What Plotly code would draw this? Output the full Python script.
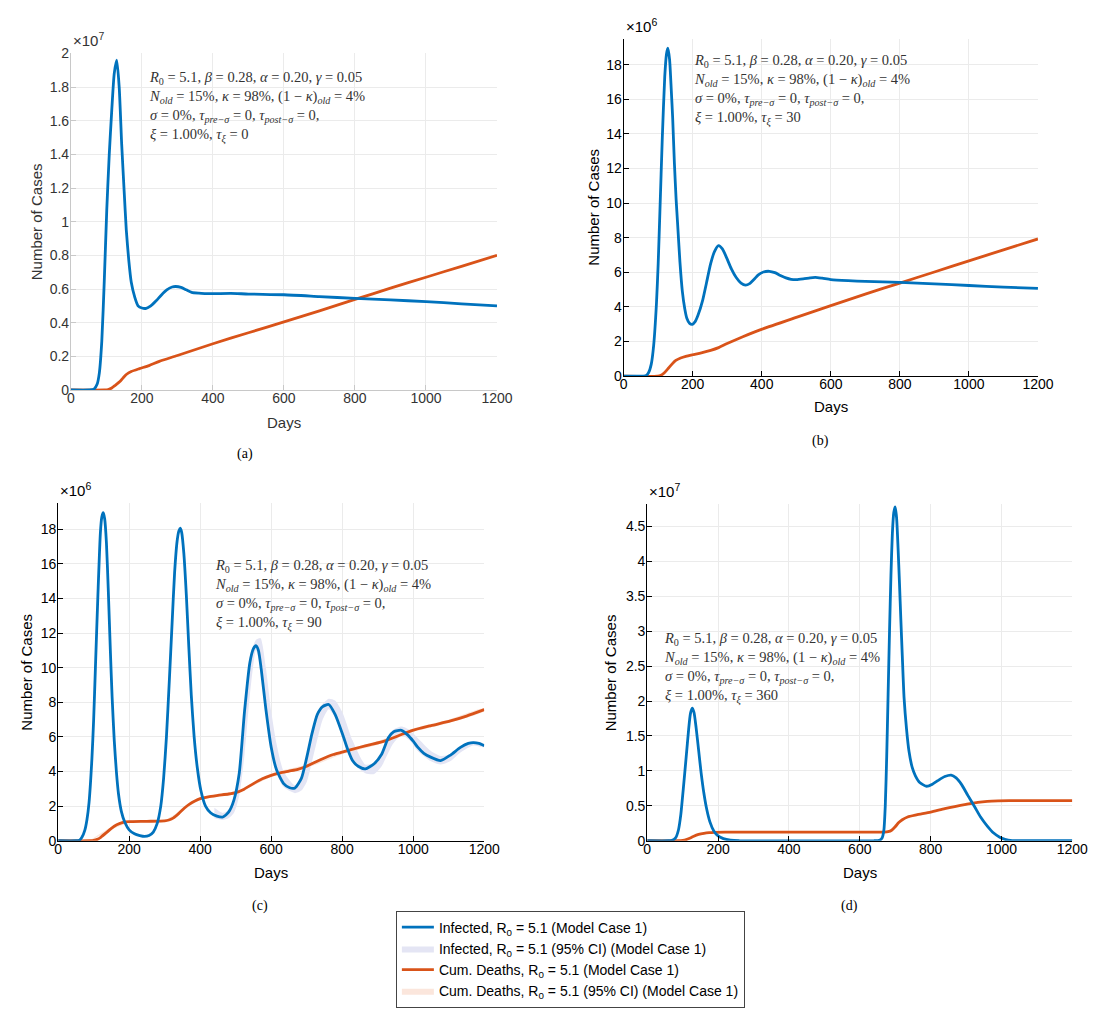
import plotly.graph_objects as go

# ---------------- data (values in the units shown on each y axis) ----------------
# Panel (a): y in units of 1e7
A_days = [0, 50, 65, 74, 80, 87, 94, 101, 108, 115, 122, 129, 136, 143, 150, 156, 163, 170, 180, 189,
          200, 212, 225, 240, 255, 270, 285, 295, 310, 325, 340, 360, 377, 400, 450, 500, 600, 700,
          800, 900, 1000, 1100, 1200]
A_inf = [0, 0, 0.005, 0.035, 0.1, 0.29, 0.65, 1.07, 1.4, 1.66, 1.88, 1.96, 1.8, 1.46, 1.18, 0.95, 0.77,
         0.64, 0.55, 0.50, 0.487, 0.485, 0.5, 0.53, 0.565, 0.595, 0.612, 0.615, 0.61, 0.595, 0.58, 0.575,
         0.573, 0.572, 0.574, 0.57, 0.566, 0.555, 0.544, 0.535, 0.525, 0.512, 0.50]
A_dth_days = [0, 95, 105, 115, 125, 138, 147, 156, 170, 193, 220, 249, 300, 400, 500, 600, 700, 800,
              900, 1000, 1100, 1200]
A_dth = [0, 0, 0.003, 0.012, 0.028, 0.05, 0.072, 0.092, 0.11, 0.127, 0.145, 0.17, 0.205, 0.275, 0.34,
         0.405, 0.47, 0.538, 0.605, 0.67, 0.735, 0.80]

# Panel (b): y in units of 1e6
B_days = [0, 55, 64, 72, 80, 87, 95, 100, 105, 112, 119, 124, 128, 133, 138, 142, 147, 152, 156, 163,
          170, 177, 183, 191, 199, 207, 215, 229, 240, 252, 263, 275, 286, 298, 312, 326, 340, 353, 365,
          378, 390, 405, 422, 438, 454, 470, 485, 500, 520, 540, 555, 575, 600, 650, 700, 800, 900, 1000,
          1100, 1200]
B_inf = [0, 0, 0.02, 0.2, 0.7, 1.8, 4.2, 6.5, 9.5, 13.8, 17.3, 18.6, 18.95, 18.3, 16.5, 14.9, 12.3, 10.2,
         8.9, 6.6, 4.9, 3.9, 3.35, 3.05, 3.0, 3.15, 3.5, 4.4, 5.4, 6.5, 7.2, 7.54, 7.35, 6.85, 6.2, 5.7,
         5.38, 5.26, 5.35, 5.6, 5.85, 6.02, 6.06, 5.98, 5.82, 5.68, 5.6, 5.58, 5.62, 5.68, 5.71, 5.66, 5.58,
         5.52, 5.48, 5.42, 5.33, 5.24, 5.15, 5.07]
B_dth_days = [0, 98, 108, 118, 128, 140, 151, 165, 180, 199, 225, 252, 275, 298, 330, 360, 401, 500, 598,
              702, 800, 900, 1000, 1100, 1200]
B_dth = [0, 0, 0.05, 0.2, 0.42, 0.7, 0.91, 1.05, 1.15, 1.24, 1.35, 1.49, 1.65, 1.87, 2.15, 2.4, 2.72, 3.4,
         4.06, 4.76, 5.38, 6.02, 6.66, 7.3, 7.93]

# Panel (c): y in units of 1e6
C_days = [0, 50, 60, 67, 75, 81, 87, 95, 100, 105, 112, 119, 123, 127, 131, 136, 141, 147, 152, 158, 164,
          170, 178, 188, 200, 215, 230, 243, 256, 268, 279, 289, 297, 305, 313, 321, 328, 335, 340, 344,
          348, 354, 361, 368, 375, 383, 392, 402, 415, 430, 447, 464, 480, 495, 510, 525, 540, 550, 557,
          564, 572, 585, 600, 615, 635, 652, 667, 685, 700, 715, 730, 745, 762, 780, 801, 815, 829, 845,
          865, 890, 911, 930, 945, 967, 985, 1000, 1012, 1030, 1049, 1077, 1105, 1133, 1155, 1169, 1185,
          1200]
C_inf = [0, 0, 0.03, 0.2, 0.6, 1.2, 2.2, 4.7, 7.0, 10.0, 14.2, 17.8, 18.7, 18.95, 18.6, 17.2, 14.6, 11.0,
         8.3, 5.8, 4.0, 2.7, 1.7, 1.05, 0.63, 0.4, 0.3, 0.25, 0.3, 0.5, 1.0, 2.0, 3.6, 6.0, 9.2, 12.6, 15.5,
         17.3, 17.9, 18.05, 17.8, 16.6, 14.2, 11.2, 8.4, 6.0, 4.2, 2.9, 2.0, 1.6, 1.42, 1.37, 1.65, 2.35,
         3.9, 7.5, 10.3, 11.1, 11.27, 11.0, 9.9, 7.6, 5.4, 4.1, 3.3, 3.06, 3.05, 3.6, 4.8, 6.2, 7.3, 7.75,
         7.87, 7.3, 6.15, 5.3, 4.63, 4.3, 4.15, 4.45, 5.0, 5.95, 6.3, 6.38, 6.1, 5.75, 5.42, 5.05, 4.83,
         4.63, 4.95, 5.39, 5.62, 5.67, 5.62, 5.49]
C_ci_days = [440, 464, 480, 495, 510, 525, 540, 557, 570, 585, 600, 615, 635, 667, 685, 700, 727, 745, 762,
             780, 801, 829, 865, 890, 911, 943, 967, 990, 1012, 1049, 1077, 1105, 1133, 1169, 1200]
C_ci_hi = [1.9, 1.6, 1.8, 2.4, 4.0, 7.8, 10.6, 11.6, 11.7, 10.0, 7.5, 5.6, 4.0, 3.2, 3.7, 4.9, 7.2, 7.9,
           8.2, 8.1, 7.4, 5.8, 4.4, 4.5, 5.1, 6.4, 6.6, 6.4, 5.95, 5.2, 4.9, 5.0, 5.45, 5.75, 5.6]
C_ci_lo = [1.3, 1.2, 1.3, 1.6, 2.6, 5.0, 8.4, 11.0, 10.0, 7.3, 5.2, 3.9, 3.1, 2.75, 2.9, 3.4, 5.6, 7.0,
           7.6, 7.1, 6.0, 4.5, 3.9, 3.85, 4.3, 5.6, 6.1, 5.8, 5.2, 4.6, 4.4, 4.6, 5.1, 5.5, 5.4]
C_dth_days = [0, 90, 100, 110, 120, 135, 150, 165, 183, 200, 250, 300, 312, 325, 340, 355, 370, 385, 400,
              423, 450, 480, 500, 524, 550, 575, 600, 625, 650, 675, 700, 725, 750, 775, 800, 850, 880,
              921, 960, 994, 1050, 1105, 1150, 1200]
C_dth = [0, 0, 0.02, 0.08, 0.2, 0.45, 0.72, 0.92, 1.06, 1.1, 1.12, 1.15, 1.2, 1.32, 1.58, 1.88, 2.12,
         2.3, 2.43, 2.54, 2.62, 2.7, 2.78, 2.98, 3.3, 3.58, 3.78, 3.92, 4.02, 4.12, 4.3, 4.55, 4.78, 4.98,
         5.12, 5.4, 5.55, 5.77, 6.08, 6.35, 6.65, 6.92, 7.2, 7.57]
C_dth_ci_days = [90, 150, 200, 300, 400, 500, 600, 700, 800, 900, 1000, 1100, 1200]
C_dth_ci_lo = [0, 0.64, 1.04, 1.1, 2.36, 2.7, 3.68, 4.2, 5.0, 5.55, 6.28, 6.8, 7.48]
C_dth_ci_hi = [0.04, 0.8, 1.16, 1.2, 2.5, 2.86, 3.88, 4.4, 5.22, 5.75, 6.48, 7.0, 7.66]

# Panel (d): y in units of 1e7
D_days = [0, 60, 70, 80, 88, 95, 102, 110, 117, 122, 127, 132, 138, 145, 152, 160, 168, 177, 188, 200,
          215, 235, 260, 640, 655, 663, 668, 672, 676, 680, 684, 688, 692, 696, 700, 704, 708, 712, 716,
          720, 725, 732, 739, 748, 757, 770, 789, 805, 820, 840, 858, 872, 888, 905, 925, 941, 960, 978,
          995, 1010, 1030, 1050, 1200]
D_inf = [0, 0, 0.005, 0.04, 0.15, 0.38, 0.75, 1.2, 1.6, 1.82, 1.9, 1.84, 1.62, 1.3, 0.98, 0.68, 0.45,
         0.27, 0.14, 0.07, 0.03, 0.008, 0, 0, 0.005, 0.04, 0.15, 0.5, 1.2, 2.1, 3.0, 3.8, 4.4, 4.7, 4.78,
         4.62, 4.2, 3.7, 3.16, 2.65, 2.05, 1.6, 1.28, 1.05, 0.93, 0.83, 0.78, 0.81, 0.86, 0.92, 0.94, 0.9,
         0.8, 0.65, 0.48, 0.34, 0.21, 0.11, 0.05, 0.02, 0.003, 0, 0]
D_dth_days = [0, 90, 100, 110, 120, 130, 145, 160, 175, 190, 220, 400, 600, 670, 680, 690, 700, 710, 720,
              735, 760, 800, 840, 868, 900, 933, 960, 990, 1050, 1200]
D_dth = [0, 0, 0.004, 0.015, 0.035, 0.06, 0.09, 0.107, 0.117, 0.121, 0.123, 0.123, 0.123, 0.124, 0.13,
         0.15, 0.2, 0.26, 0.3, 0.34, 0.37, 0.41, 0.46, 0.49, 0.52, 0.55, 0.565, 0.572, 0.575, 0.575]

PARAM_LINES = [
    "<i>R</i><sub>0</sub> = 5.1, <i>β</i> = 0.28, <i>α</i> = 0.20, <i>γ</i> = 0.05",
    "<i>N</i><sub><i>old</i></sub> = 15%, <i>κ</i> = 98%, (1 − <i>κ</i>)<sub><i>old</i></sub> = 4%",
    "<i>σ</i> = 0%, <i>τ</i><sub><i>pre−σ</i></sub> = 0, <i>τ</i><sub><i>post−σ</i></sub> = 0,",
]
TAU_XI = ["0", "30", "90", "360"]
EXPONENTS = ["7", "6", "6", "7"]
CAPTIONS = ["(a)", "(b)", "(c)", "(d)"]

BLUE = "#0072BD"
RED = "#D95319"
BLUE_CI = "#e4e5f4"
RED_CI = "#fbe6dc"

W, H = 1098, 1011
# plot-area boxes in pixels: (left, right, top, bottom)
BOX = [(60, 494, 38, 380), (623, 1045, 23, 366), (47, 481, 495, 838), (647, 1080, 496, 838)]

fig = go.Figure()

panels = [
    (A_days, A_inf, A_dth_days, A_dth),
    (B_days, B_inf, B_dth_days, B_dth),
    (C_days, C_inf, C_dth_days, C_dth),
    (D_days, D_inf, D_dth_days, D_dth),
]

for i, (dd, inf, dthd, dth) in enumerate(panels):
    xa = "x" if i == 0 else f"x{i+1}"
    ya = "y" if i == 0 else f"y{i+1}"
    if i == 2:
        fig.add_trace(go.Scatter(
            x=C_ci_days + C_ci_days[::-1], y=C_ci_hi + C_ci_lo[::-1], xaxis=xa, yaxis=ya,
            fill="toself", fillcolor=BLUE_CI, line=dict(width=0, shape="spline", smoothing=0.6),
            mode="lines", name="Infected, R<sub>0</sub> = 5.1 (95% CI) (Model Case 1)",
            legendgroup="g2", legendrank=2, showlegend=True, hoverinfo="skip"))
        fig.add_trace(go.Scatter(
            x=C_dth_ci_days + C_dth_ci_days[::-1], y=C_dth_ci_hi + C_dth_ci_lo[::-1], xaxis=xa, yaxis=ya,
            fill="toself", fillcolor=RED_CI, line=dict(width=0, shape="spline", smoothing=0.6),
            mode="lines", name="Cum. Deaths, R<sub>0</sub> = 5.1 (95% CI) (Model Case 1)",
            legendgroup="g4", legendrank=4, showlegend=True, hoverinfo="skip"))
    fig.add_trace(go.Scatter(
        x=dthd, y=dth, xaxis=xa, yaxis=ya, mode="lines",
        line=dict(color=RED, width=2.8, shape="spline", smoothing=0.6),
        name="Cum. Deaths, R<sub>0</sub> = 5.1 (Model Case 1)", legendgroup="g3", legendrank=3,
        showlegend=(i == 0)))
    fig.add_trace(go.Scatter(
        x=dd, y=inf, xaxis=xa, yaxis=ya, mode="lines",
        line=dict(color=BLUE, width=2.8, shape="spline", smoothing=0.6),
        name="Infected, R<sub>0</sub> = 5.1 (Model Case 1)", legendgroup="g1", legendrank=1,
        showlegend=(i == 0)))

SANS = "Liberation Sans, Arial, sans-serif"
SERIF = "Liberation Serif, Times New Roman, serif"

yticks = [
    ([0, 0.2, 0.4, 0.6, 0.8, 1, 1.2, 1.4, 1.6, 1.8, 2], [0, 2.0]),
    (list(range(0, 20, 2)), [0, 19.5]),
    (list(range(0, 20, 2)), [0, 19.5]),
    ([0, 0.5, 1, 1.5, 2, 2.5, 3, 3.5, 4, 4.5], [0, 4.82]),
]

layout = dict(width=W, height=H, margin=dict(l=0, r=0, t=0, b=0),
              paper_bgcolor="white", plot_bgcolor="white", showlegend=True)

DAYS_Y = [413, 397, 870, 870]
NOC_X = [25, 592, 15, 610]
CAP_X = [237, 823, 253, 853]
CAP_Y = [445, 432, 904, 904]
TXT_X = [137, 693, 205, 662]
TXT_MID_Y = [92, 75, 588, 662]

annotations = []
for i, (l, r, t, b) in enumerate(BOX):
    sx = "" if i == 0 else str(i + 1)
    line_col = "#c8c8c8" if i == 0 else "#000"
    txt_col = "#333" if i == 0 else "#000"
    tf = dict(family=SANS, size=14, color=txt_col)
    tv, rng = yticks[i]
    layout["xaxis" + sx] = dict(
        domain=[l / W, r / W], anchor="y" + sx, range=[0, 1200],
        tickvals=[0, 200, 400, 600, 800, 1000, 1200], ticks="inside", ticklen=5, tickcolor=line_col,
        showline=True, linecolor=line_col, linewidth=1, showgrid=True, gridcolor="#ebebeb",
        zeroline=False, tickfont=tf, ticklabelstandoff=-5)
    layout["yaxis" + sx] = dict(
        domain=[1 - b / H, 1 - t / H], anchor="x" + sx, range=rng,
        tickvals=tv, ticktext=[f"{v:g}" for v in tv], ticks="inside", ticklen=5, tickcolor=line_col,
        showline=True, linecolor=line_col, linewidth=1, showgrid=True, gridcolor="#ebebeb",
        zeroline=False, tickfont=tf, ticklabelstandoff=-2)
    # axis titles
    annotations.append(dict(
        text="Days", xref="paper", yref="paper", x=(l + r) / 2 / W, y=1 - DAYS_Y[i] / H,
        xanchor="center", yanchor="middle", showarrow=False,
        font=dict(family=SANS, size=15, color=txt_col)))
    annotations.append(dict(
        text="Number of Cases", xref="paper", yref="paper", x=NOC_X[i] / W, y=1 - (t + b) / 2 / H,
        xanchor="center", yanchor="middle", showarrow=False, textangle=-90,
        font=dict(family=SANS, size=15, color=txt_col)))
    # exponent label
    annotations.append(dict(
        text=f"×10<sup>{EXPONENTS[i]}</sup>", xref="paper", yref="paper",
        x=(l + 0) / W, y=1 - (t - 2) / H, xanchor="left", yanchor="bottom", showarrow=False,
        font=dict(family=SANS, size=15, color=txt_col)))
    # caption
    annotations.append(dict(
        text=CAPTIONS[i], xref="paper", yref="paper", x=CAP_X[i] / W, y=1 - CAP_Y[i] / H,
        xanchor="center", yanchor="middle", showarrow=False,
        font=dict(family=SERIF, size=14, color="#000")))
    # parameter text block
    lines = PARAM_LINES + [f"<i>ξ</i> = 1.00%, <i>τ</i><sub><i>ξ</i></sub> = {TAU_XI[i]}"]
    annotations.append(dict(
        text="<br>".join(lines), xref="paper", yref="paper", x=TXT_X[i] / W,
        y=1 - TXT_MID_Y[i] / H, xanchor="left", yanchor="middle", align="left", showarrow=False,
        font=dict(family=SERIF, size=14.5, color="#333")))

layout["annotations"] = annotations
layout["legend"] = dict(
    x=391 / W, y=1 - 909 / H, xanchor="left", yanchor="top",
    bordercolor="#444", borderwidth=1, bgcolor="white",
    font=dict(family=SANS, size=14, color="#000"),
    itemwidth=32, tracegroupgap=4, traceorder="normal")
fig.update_layout(**layout)

fig.write_html("out.html")
